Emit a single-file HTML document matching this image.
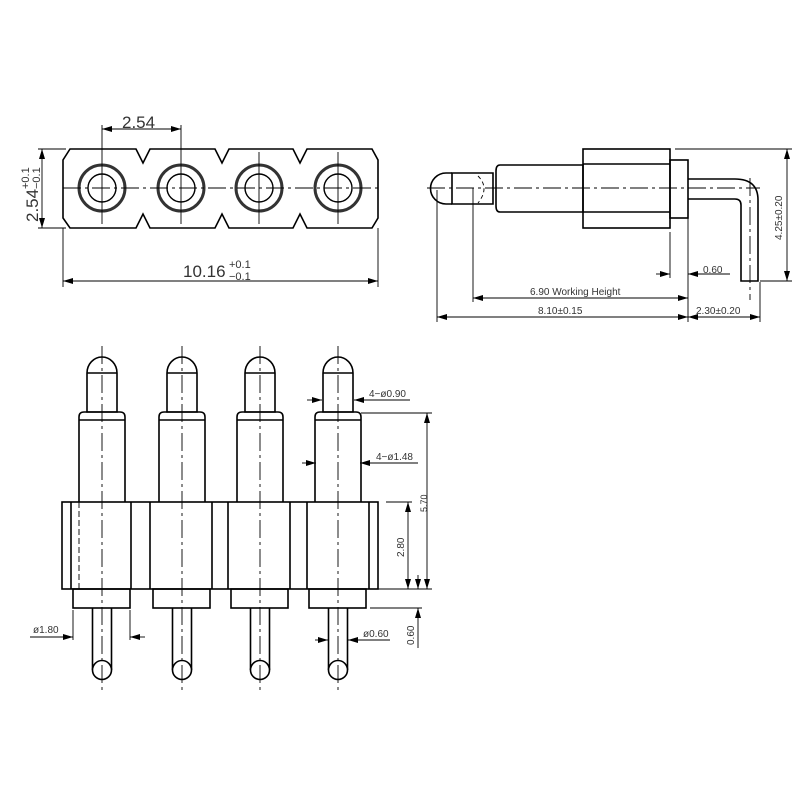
<!DOCTYPE html>
<html><head><meta charset="utf-8"><style>
body{margin:0;background:#fff}
svg{display:block}
text{font-family:"Liberation Sans",sans-serif;fill:#333}
</style></head><body>
<svg width="800" height="800" viewBox="0 0 800 800" xmlns="http://www.w3.org/2000/svg">
<defs>
<marker id="a" viewBox="0 0 10 6" refX="10" refY="3" markerWidth="10" markerHeight="6" markerUnits="userSpaceOnUse" orient="auto-start-reverse"><path d="M0,0L10,3L0,6z" fill="#000"/></marker>
</defs>
<g fill="none" stroke="#000" stroke-width="1.6">
<path d="M70,149 H136 L143,163 L150,149 H215 L222,163 L229,149 H293 L300,163 L307,149 H372 L378,160 V218 L372,228 H307 L300,214 L293,228 H229 L222,214 L215,228 H150 L143,214 L136,228 H70 L63,218 V160 Z"/>
<g stroke-width="3" stroke="#333"><circle cx="102" cy="188" r="23"/><circle cx="181" cy="188" r="23"/><circle cx="259" cy="188" r="23"/><circle cx="338" cy="188" r="23"/></g>
<g stroke-width="1.4"><circle cx="102" cy="188" r="14"/><circle cx="181" cy="188" r="14"/><circle cx="259" cy="188" r="14"/><circle cx="338" cy="188" r="14"/></g>
</g>
<g fill="none" stroke="#000" stroke-width="0.9">
<path d="M63,188 H378" stroke-dasharray="18,4,3,4"/>
<path d="M102,125 V224 M181,125 V224 M259,152 V224 M338,152 V224"/>
<path d="M102,129 H181" marker-start="url(#a)" marker-end="url(#a)"/>
<path d="M38,149 H66 M38,228 H66"/>
<path d="M42,149 V228" marker-start="url(#a)" marker-end="url(#a)"/>
<path d="M63,228 V287 M378,228 V287"/>
<path d="M63,281 H378" marker-start="url(#a)" marker-end="url(#a)"/>
</g>
<text x="122" y="128" font-size="17">2.54</text>
<text x="183" y="277" font-size="17">10.16</text>
<text x="229" y="268" font-size="11">+0.1</text>
<text x="229" y="280" font-size="11">−0.1</text>
<g transform="translate(38,222) rotate(-90)"><text x="0" y="0" font-size="17">2.54</text><text x="33" y="-9" font-size="11">+0.1</text><text x="33" y="2" font-size="11">−0.1</text></g>

<g fill="none" stroke="#000" stroke-width="1.6">
<path d="M452,173 H446 A15,15 0 0 0 446,204 H452"/>
<path d="M452,173 H493 V204 H452 Z"/>
<path d="M500,165 H583 V212 H500 Q496,212 496,206 V171 Q496,165 500,165 Z"/>
<rect x="583" y="149" width="87" height="79"/>
<path d="M583,164 H670 M583,212 H670"/>
<rect x="670" y="160" width="18" height="58"/>
<path d="M688,179 H735 Q758,179 758,200 V281 H741 V205 Q741,199 735,199 H688"/>
</g>
<g fill="none" stroke="#000" stroke-width="0.9">
<path d="M478,176 Q490,188 478,203" stroke-dasharray="4,3"/>
<path d="M427,188 H760 M750,178 V300" stroke-dasharray="18,4,3,4"/>
<path d="M675,149 H792 M760,281 H792"/>
<path d="M787,149 V281" marker-start="url(#a)" marker-end="url(#a)"/>
<path d="M670,232 V278 M688,218 V322"/>
<path d="M656,274 H670" marker-end="url(#a)"/>
<path d="M730,274 H688" marker-end="url(#a)"/>
<path d="M473,188 V302 M437,190 V322 M760,282 V322"/>
<path d="M473,298 H688" marker-start="url(#a)" marker-end="url(#a)"/>
<path d="M437,317 H688" marker-start="url(#a)" marker-end="url(#a)"/>
<path d="M688,317 H760" marker-start="url(#a)" marker-end="url(#a)"/>
</g>
<text x="703" y="273" font-size="10">0.60</text>
<text x="530" y="295" font-size="10">6.90 Working Height</text>
<text x="538" y="314" font-size="10">8.10±0.15</text>
<text x="696" y="314" font-size="10">2.30±0.20</text>
<text transform="translate(782,240) rotate(-90)" font-size="10">4.25±0.20</text>

<g fill="none" stroke="#000" stroke-width="1.6">
<rect x="62" y="502" width="316" height="87"/>
<path d="M71,502V589 M131,502V589 M150,502V589 M212,502V589 M228,502V589 M290,502V589 M307,502V589 M369,502V589"/>
</g>
<path d="M79,502 V589" stroke="#000" stroke-width="0.9" stroke-dasharray="6,3" fill="none"/>
<g id="p" fill="none" stroke="#000" stroke-width="1.6">
<path d="M87,373 A15,16 0 0 1 117,373 V412 H87 Z M87,373 H117"/>
<path d="M79,502 V417 Q79,412 84,412 H120 Q125,412 125,417 V502 M79,420 H125"/>
<rect x="73" y="589" width="57" height="19"/>
<path d="M92.5,608 V670 M111.5,608 V670"/>
<circle cx="102" cy="670" r="9.5" fill="#fff"/>
<path d="M102,346 V690" stroke-width="0.9" stroke-dasharray="18,4,3,4"/>
</g>
<use href="#p" transform="translate(80,0)"/>
<use href="#p" transform="translate(158,0)"/>
<use href="#p" transform="translate(236,0)"/>
<g fill="none" stroke="#000" stroke-width="0.9">
<path d="M307,400 H322" marker-end="url(#a)"/>
<path d="M410,400 H354" marker-end="url(#a)"/>
<path d="M302,463 H316" marker-end="url(#a)"/>
<path d="M418,463 H360" marker-end="url(#a)"/>
<path d="M361,413 H432 M378,589 H432 M370,608 H422"/>
<path d="M427,413 V589" marker-start="url(#a)" marker-end="url(#a)"/>
<path d="M408,502 V589" marker-start="url(#a)" marker-end="url(#a)"/>
<path d="M386,502 H412"/>
<path d="M418,575 V589" marker-end="url(#a)"/>
<path d="M418,648 V608" marker-end="url(#a)"/>
<path d="M73,610 V640 M130,610 V640"/>
<path d="M30,637 H73" marker-end="url(#a)"/>
<path d="M145,637 H130" marker-end="url(#a)"/>
<path d="M315,640 H328" marker-end="url(#a)"/>
<path d="M390,640 H348" marker-end="url(#a)"/>
</g>
<text x="369" y="397" font-size="10">4−ø0.90</text>
<text x="376" y="460" font-size="10">4−ø1.48</text>
<text x="33" y="633" font-size="10">ø1.80</text>
<text x="363" y="637" font-size="10">ø0.60</text>
<text transform="translate(404,557) rotate(-90)" font-size="10">2.80</text>
<text transform="translate(427,512) rotate(-90)" font-size="9">5.70</text>
<text transform="translate(414,645) rotate(-90)" font-size="10">0.60</text>
</svg>
</body></html>
